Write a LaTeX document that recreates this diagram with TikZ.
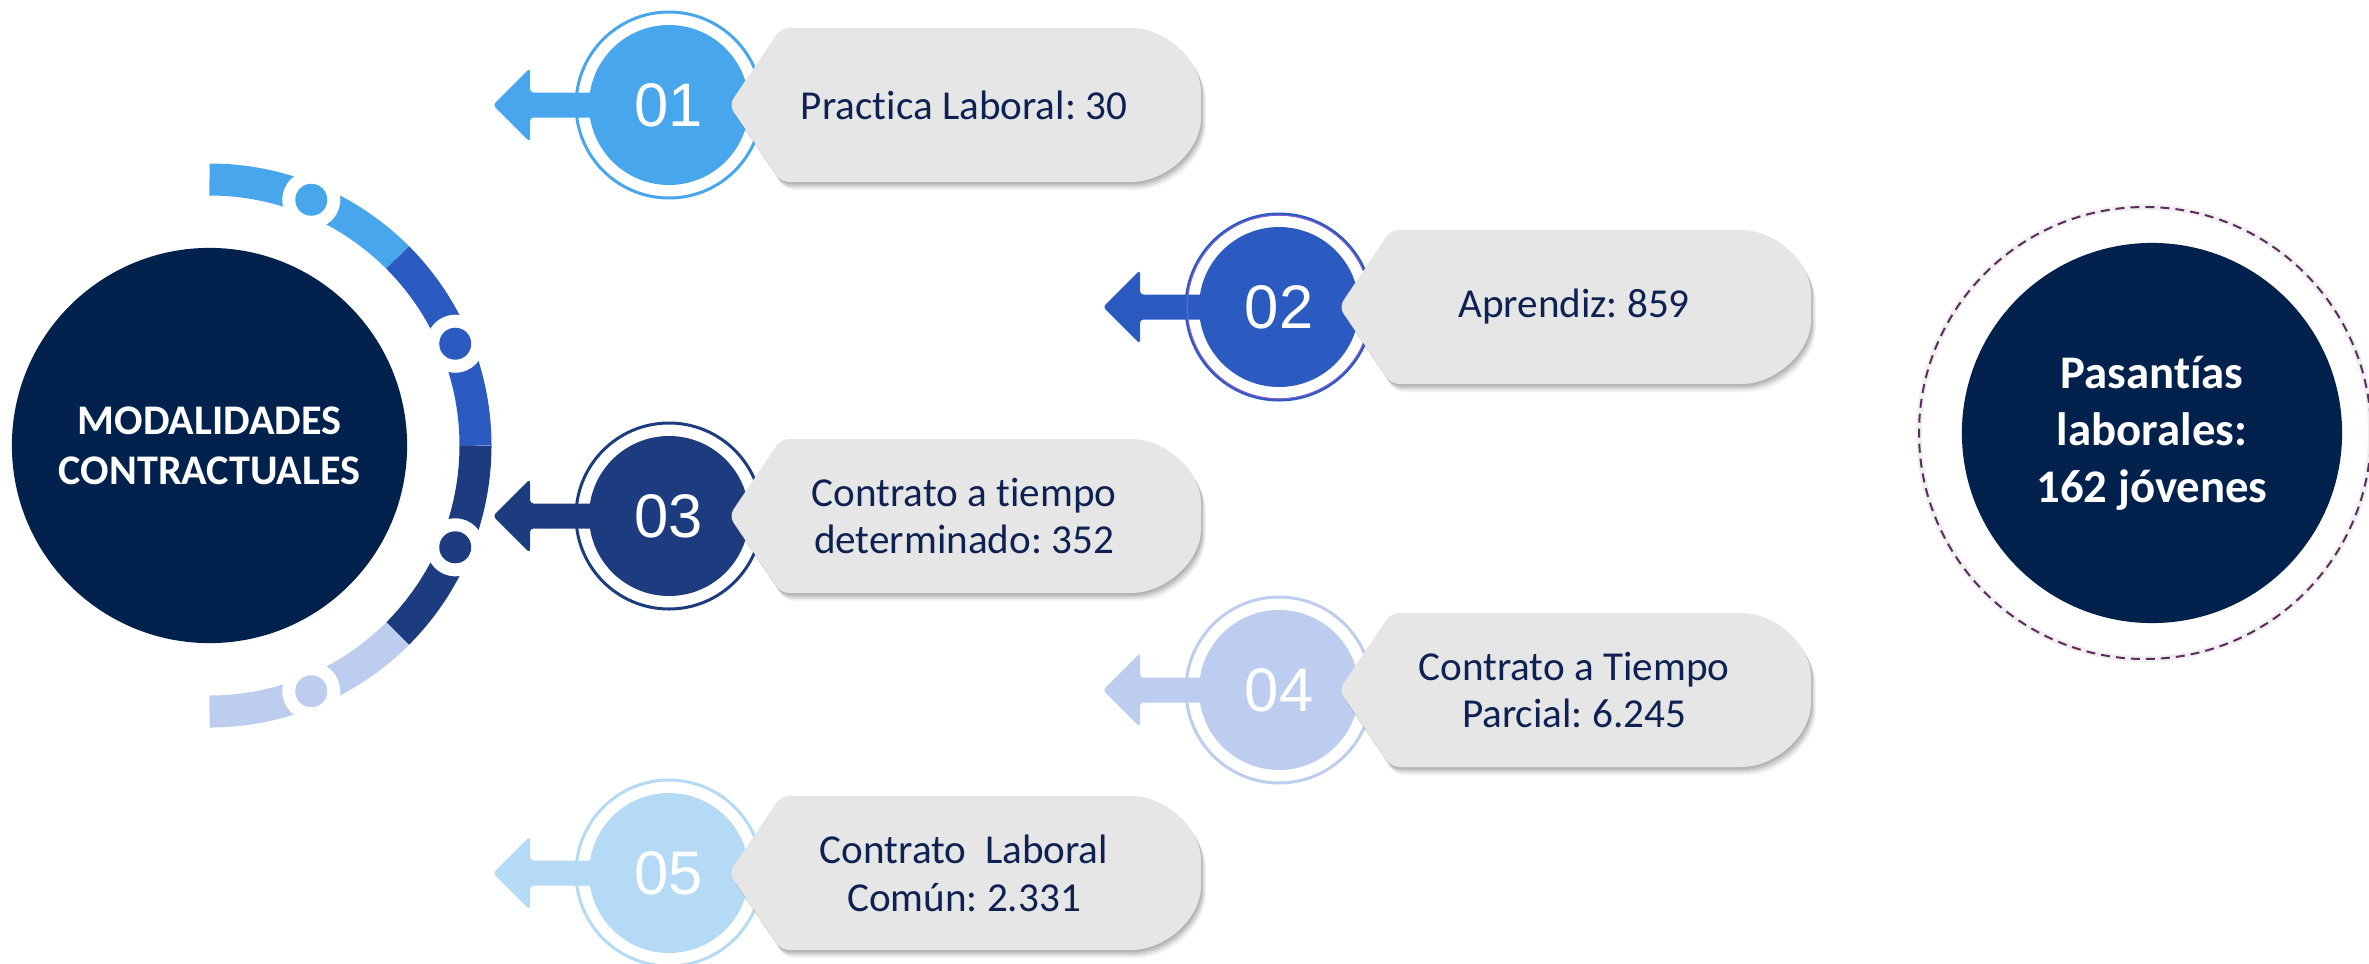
\documentclass[tikz,border=0pt]{standalone}
\usepackage{fontspec}
\setmainfont{Carlito}[Ligatures=NoCommon]
\newfontfamily\numfont{Liberation Sans}
\usetikzlibrary{calc}
\definecolor{cA}{HTML}{47A6EC}
\definecolor{cB}{HTML}{2B5AC0}
\definecolor{cC}{HTML}{1D3C80}
\definecolor{cD}{HTML}{BCCDF0}
\definecolor{cE}{HTML}{B5DAF6}
\definecolor{navy}{HTML}{03214D}
\definecolor{tagtxt}{HTML}{0D2252}
\definecolor{tagfill}{HTML}{E6E6E6}
\definecolor{dashcol}{HTML}{5E2B5E}
\definecolor{ringpurple}{HTML}{8A5AD6}
\frenchspacing
\tikzset{
  tagtext/.style={text=tagtxt, align=center, font=\fontsize{11.7}{13.6}\selectfont},
  numtext/.style={text=white, font=\numfont\fontsize{17.5}{20}\selectfont},
  bigdisc/.style={circle, fill=navy, text=white, align=center, inner sep=0pt},
  ringseg/.style={line width=0.32cm},
  tagshape/.style={rounded corners=0.08cm},
}
% tag outline: #1 = badge centre x, #2 = centre y
\newcommand\tagpath[2]{({#1+200},{#2-77}) -- ({#1+454},{#2-77}) .. controls ({#1+497},{#2-77}) and ({#1+532},{#2-45}) .. ({#1+532},{#2-5}) -- ({#1+532},{#2+5}) .. controls ({#1+532},{#2+45}) and ({#1+497},{#2+77}) .. ({#1+454},{#2+77}) -- ({#1+112},{#2+77}) -- ({#1+60},{#2}) -- ({#1+112},{#2-77}) -- cycle}
\newcommand\mybadge[5]{%
  \draw[#4, line width=0.03cm] (#2,#3) circle (93);
  \fill[#4, rounded corners=0.035cm] ({#2-176},#3) -- ({#2-139},{#3-37}) -- ({#2-139},{#3-12.5}) -- ({#2-60},{#3-12.5}) -- ({#2-60},{#3+12.5}) -- ({#2-139},{#3+12.5}) -- ({#2-139},{#3+37}) -- cycle;
  \fill[#4] (#2,#3) circle (80);
  \node[numtext] (#1) at (#2,#3) {#5};
}
\newcommand\mytag[4]{%
  \foreach \s/\o in {2/0.10, 4/0.10, 6/0.08, 8/0.05} {%
    \fill[black, opacity=\o, tagshape, shift={(\s*0.6,\s)}] \tagpath{#2}{#3};}
  \fill[tagfill, tagshape] \tagpath{#2}{#3};
  \node[tagtext] (#1) at ({#2+295},#3) {#4};
}
\begin{document}
\begin{tikzpicture}[x=0.01cm,y=-0.01cm]
\useasboundingbox (0,0) rectangle (2369,963);
% left ring
\coordinate (m) at (209.5,445.5);
\draw[ringseg, cA] ($(m)+(-90:266)$) arc[start angle=-90, end angle=-45, radius=266];
\draw[ringseg, cB] ($(m)+(-45:266)$) arc[start angle=-45, end angle=0, radius=266];
\draw[ringseg, cC] ($(m)+(0:266)$) arc[start angle=0, end angle=45, radius=266];
\draw[ringseg, cD] ($(m)+(45:266)$) arc[start angle=45, end angle=90, radius=266];
\foreach \a/\c in {-67.5/cA, -22.5/cB, 22.5/cC, 67.5/cD} {
  \fill[white] ($(m)+(\a:266)$) circle (29);
  \fill[\c] ($(m)+(\a:266)$) circle (16);
}
\node[bigdisc, minimum size=3.95cm, font=\bfseries\fontsize{12}{14.2}\selectfont] (main) at (m) {MODALIDADES\\CONTRACTUALES};
% badges and tags
\mybadge{b1}{669}{105}{cA}{01}
\mytag{t1}{669}{105}{Practica Laboral: 30}
\mybadge{b2}{1279}{307}{cB}{02}
\draw[ringpurple, line width=0.01cm] (1279,307) circle (91.8);
\mytag{t2}{1279}{307}{Aprendiz: 859}
\mybadge{b3}{669}{516}{cC}{03}
\mytag{t3}{669}{516}{Contrato a tiempo\\determinado: 352}
\mybadge{b4}{1279}{690}{cD}{04}
\mytag{t4}{1279}{690}{Contrato a Tiempo\\Parcial: 6.245}
\mybadge{b5}{669}{873}{cE}{05}
\mytag{t5}{669}{873}{Contrato~ Laboral\\Común: 2.331}
% right circle
\draw[black!6, line width=0.06cm] (2145,433) circle (226);
\draw[dashcol, line width=0.02cm, dash pattern=on 0.09cm off 0.06cm] (2145,433) circle (226);
\node[bigdisc, minimum size=3.8cm, font=\bfseries\fontsize{13.3}{16.2}\selectfont] (pas) at (2152,433) {Pasantías\\laborales:\\162 jóvenes};
\end{tikzpicture}
\end{document}
